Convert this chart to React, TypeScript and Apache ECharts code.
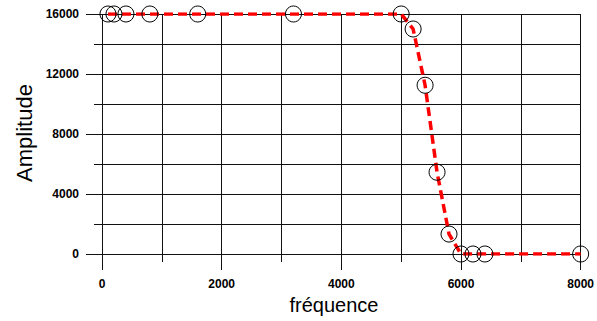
import React, { useEffect, useRef } from "react";
import * as echarts from "echarts";

const frequencies = [100, 200, 400, 800, 1600, 3200, 5000, 5200, 5400, 5600, 5800, 6000, 6200, 6400, 8000];
const amplitudes = [16000, 16000, 16000, 16000, 16000, 16000, 16000, 15000, 11250, 5450, 1330, 0, 0, 0, 0];
const xTitle = "fréquence";
const yTitle = "Amplitude";

export default function App() {
  const ref = useRef<HTMLDivElement>(null);
  useEffect(() => {
    if (!ref.current) return;
    const chart = echarts.init(ref.current, undefined, { renderer: "svg" });
    const data = frequencies.map((f, i) => [f, amplitudes[i]]);
    const gridColor = "#111";
    const font = "Liberation Sans";
    const lineStyle = { color: gridColor, width: 1 };
    chart.setOption({
      animation: false,
      backgroundColor: "#fff",
      grid: { left: 102, right: 15.5, top: 14, bottom: 67 },
      xAxis: {
        type: "value",
        position: "bottom",
        min: 0,
        max: 8000,
        interval: 2000,
        axisLine: { show: true, onZero: false, lineStyle },
        axisTick: { show: true, inside: false, length: 16, lineStyle },
        minorTick: { show: true, splitNumber: 2, length: 8, lineStyle },
        splitLine: { show: true, lineStyle },
        minorSplitLine: { show: true, lineStyle },
        axisLabel: {
          margin: 24,
          color: "#000",
          fontSize: 12,
          fontWeight: "bold",
          fontFamily: font,
          formatter: (v: number) => String(v),
        },
      },
      yAxis: {
        type: "value",
        position: "left",
        min: 0,
        max: 16000,
        interval: 4000,
        axisLine: { show: false, onZero: false },
        axisTick: { show: true, inside: false, length: 16, lineStyle },
        minorTick: { show: true, splitNumber: 2, length: 8, lineStyle },
        splitLine: { show: true, lineStyle },
        minorSplitLine: { show: true, lineStyle },
        axisLabel: {
          margin: 23,
          color: "#000",
          fontSize: 12,
          fontWeight: "bold",
          fontFamily: font,
          formatter: (v: number) => String(v),
        },
      },
      graphic: [
        {
          type: "text",
          x: 24,
          y: 133,
          rotation: Math.PI / 2,
          style: {
            text: yTitle,
            fontSize: 22,
            fontFamily: font,
            fill: "#000",
            textAlign: "center",
            textVerticalAlign: "middle",
          },
        },
        {
          type: "text",
          x: 334,
          y: 305,
          style: {
            text: xTitle,
            fontSize: 20,
            fontFamily: font,
            fill: "#000",
            textAlign: "center",
            textVerticalAlign: "middle",
          },
        },
      ],
      series: [
        {
          type: "line",
          data,
          symbol: "circle",
          symbolSize: 16,
          itemStyle: { color: "rgba(0,0,0,0)", borderColor: "#000", borderWidth: 1 },
          lineStyle: { color: "#ff0000", width: 3.5, type: [9, 5] },
          z: 3,
        },
      ],
    });
    return () => chart.dispose();
  }, []);
  return <div ref={ref} style={{ position: "fixed", left: 0, top: 0, width: 597, height: 321 }} />;
}
